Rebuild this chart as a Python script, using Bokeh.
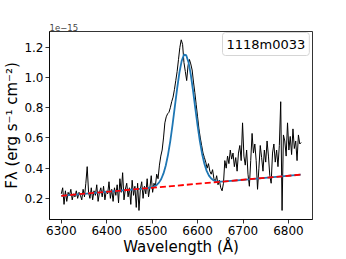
from bokeh.plotting import figure
from bokeh.models import Label, FixedTicker, NumeralTickFormatter, Range1d
from bokeh.embed import file_html
from bokeh.resources import INLINE

# ---- data (flux in units of 1e-15 erg s^-1 cm^-2) ----
wave_start = 6300
wave_step = 3
flux = [
    0.23, 0.27, 0.16, 0.25, 0.18, 0.24, 0.22, 0.26, 0.19, 0.23,
    0.21, 0.25, 0.20, 0.24, 0.22, 0.19, 0.26, 0.21, 0.30, 0.41,
    0.24, 0.20, 0.27, 0.19, 0.25, 0.22, 0.29, 0.18, 0.24, 0.27,
    0.21, 0.28, 0.19, 0.25, 0.23, 0.31, 0.20, 0.26, 0.18, 0.27,
    0.22, 0.29, 0.17, 0.33, 0.24, 0.37, 0.19, 0.26, 0.30, 0.21,
    0.27, 0.16, 0.32, 0.22, 0.28, 0.14, 0.30, 0.12, 0.26, 0.31,
    0.20, 0.28, 0.23, 0.33, 0.21, 0.27, 0.35, 0.24, 0.30, 0.28,
    0.36, 0.33, 0.42, 0.48, 0.52, 0.60, 0.70, 0.74, 0.76, 0.77,
    0.80, 0.84, 0.87, 0.92, 0.98, 1.04, 1.12, 1.20, 1.25, 1.22,
    1.10, 1.04, 0.98, 1.08, 1.12, 1.09, 1.05, 0.97, 0.90, 0.82,
    0.74, 0.66, 0.60, 0.55, 0.50, 0.47, 0.44, 0.40, 0.43, 0.38,
    0.36, 0.39, 0.33, 0.31, 0.35, 0.29, 0.32, 0.27, 0.25, 0.30,
    0.45, 0.40, 0.48, 0.43, 0.52, 0.46, 0.50, 0.41, 0.47, 0.38,
    0.50, 0.55, 0.45, 0.70, 0.48, 0.42, 0.52, 0.36, 0.28, 0.45,
    0.63, 0.50, 0.56, 0.45, 0.26, 0.40, 0.55, 0.47, 0.38, 0.52,
    0.44, 0.58, 0.48, 0.35, 0.30, 0.50, 0.56, 0.44, 0.52, 0.41,
    0.55, 0.84, 0.12, 0.62, 0.58, 0.48, 0.70, 0.52, 0.61, 0.49,
    0.66, 0.53, 0.58, 0.45, 0.62, 0.56, 0.57,
]
wave = [wave_start + wave_step * i for i in range(len(flux))]

fit_wave = [6300, 6400, 6450, 6480, 6490, 6500, 6505, 6510, 6515, 6520,
            6525, 6530, 6535, 6540, 6545, 6550, 6555, 6560, 6565, 6570,
            6575, 6580, 6585, 6590, 6595, 6600, 6605, 6610, 6615, 6620,
            6625, 6630, 6635, 6640, 6650, 6660, 6700, 6827]
fit_flux = [0.217, 0.2435, 0.257, 0.265, 0.2685, 0.2741, 0.2797, 0.2890, 0.3042, 0.3283,
            0.3650, 0.4180, 0.4898, 0.5813, 0.6897, 0.8086, 0.9271, 1.0322, 1.1105, 1.1510,
            1.1479, 1.1018, 1.0198, 0.9136, 0.7966, 0.6818, 0.5790, 0.4941, 0.4288, 0.3820,
            0.3507, 0.3313, 0.3201, 0.3144, 0.3114, 0.3127, 0.3230, 0.3567]

cont_wave = [6300, 6827]
cont_flux = [0.217, 0.3567]

x_ticks = [6300, 6400, 6500, 6600, 6700, 6800]
y_ticks = [0.2, 0.4, 0.6, 0.8, 1.0, 1.2]
legend_text = "1118m0033"

FONT = "DejaVu Sans"

p = figure(width=346, height=259, output_backend="svg", toolbar_location=None,
           x_range=Range1d(6274, 6853), y_range=Range1d(0.06, 1.305),
           min_border_left=43, min_border_right=34, min_border_top=31,
           min_border_bottom=40)
p.grid.visible = False
p.outline_line_color = "black"
p.outline_line_width = 0.8

for ax in (p.xaxis[0], p.yaxis[0]):
    ax.axis_line_color = "black"
    ax.axis_line_width = 0.8
    ax.major_tick_line_color = "black"
    ax.major_tick_line_width = 0.8
    ax.major_tick_in = 0
    ax.major_tick_out = 4
    ax.minor_tick_line_color = None
    ax.major_label_text_font = FONT
    ax.major_label_text_font_size = "12px"
    ax.major_label_text_color = "black"
    ax.major_label_standoff = 2
    ax.axis_label_text_font = FONT
    ax.axis_label_text_font_size = "15px"
    ax.axis_label_text_font_style = "normal"
    ax.axis_label_text_color = "black"
    ax.axis_label_standoff = 0

p.xaxis.ticker = FixedTicker(ticks=x_ticks)
p.yaxis.ticker = FixedTicker(ticks=y_ticks)
p.yaxis.formatter = NumeralTickFormatter(format="0.0")
p.xaxis.axis_label = "Wavelength (Å)"
p.yaxis.axis_label = "Fλ (erg s⁻¹ cm⁻²)"

# offset text as title
p.title.text = "1e−15"
p.title.text_font = FONT
p.title.text_font_size = "8.5px"
p.title.text_font_style = "normal"
p.title.align = "left"
p.title.standoff = 1

p.line(wave, flux, line_color="black", line_width=1)
p.line(fit_wave, fit_flux, line_color="#1f77b4", line_width=1.8)
p.line(cont_wave, cont_flux, line_color="red", line_width=1.8, line_dash="6 3")

# legend-like box
p.add_layout(Label(x=173, y=187, x_units="screen", y_units="screen",
                   text=legend_text, text_font=FONT, text_font_size="13px",
                   text_align="left", text_baseline="top", text_color="black",
                   background_fill_color="white", background_fill_alpha=0.8,
                   border_line_color="#d5d5d5", border_line_width=1,
                   padding=4, border_radius=3))

open("out.html", "w").write(file_html(p, INLINE))
